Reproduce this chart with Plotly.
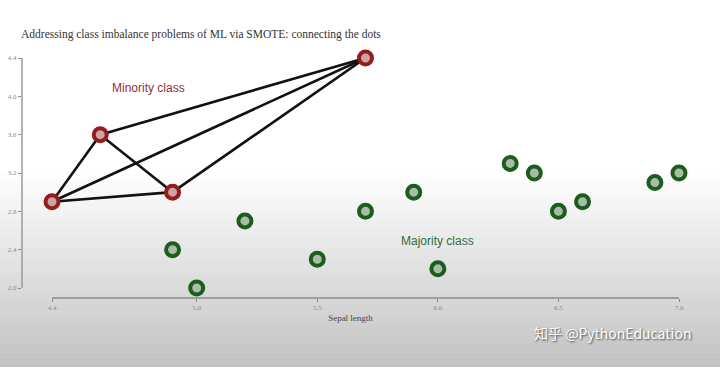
import plotly.graph_objects as go

# ---- data ----
minority_x = [4.4, 4.6, 4.9, 5.7]
minority_y = [2.9, 3.6, 3.0, 4.4]
majority_x = [4.9, 5.0, 5.2, 5.5, 5.7, 5.9, 6.0, 6.3, 6.4, 6.5, 6.6, 6.9, 7.0]
majority_y = [2.4, 2.0, 2.7, 2.3, 2.8, 3.0, 2.2, 3.3, 3.2, 2.8, 2.9, 3.1, 3.2]
x_ticks = [4.4, 5.0, 5.5, 6.0, 6.5, 7.0]
y_ticks = [2.0, 2.4, 2.8, 3.2, 3.6, 4.0, 4.4]
title_text = "Addressing class imbalance problems of ML via SMOTE: connecting the dots"
x_title = "Sepal length"

# connecting lines between every pair of minority points
lx, ly = [], []
n = len(minority_x)
for i in range(n):
    for j in range(i + 1, n):
        lx += [minority_x[i], minority_x[j], None]
        ly += [minority_y[i], minority_y[j], None]

fig = go.Figure()
fig.add_trace(go.Scatter(x=lx, y=ly, mode="lines",
                         line=dict(color="#111111", width=2.6),
                         hoverinfo="skip", cliponaxis=False, showlegend=False))
fig.add_trace(go.Scatter(x=majority_x, y=majority_y, mode="markers",
                         marker=dict(size=13, color="#a9bba9",
                                     line=dict(color="#1c5c1c", width=4)),
                         cliponaxis=False, showlegend=False))
fig.add_trace(go.Scatter(x=minority_x, y=minority_y, mode="markers",
                         marker=dict(size=13, color="#c8a4a4",
                                     line=dict(color="#951c1c", width=4)),
                         cliponaxis=False, showlegend=False))

# background gradient (bands)
shapes = []
W, H = 720, 367
L, R, T, B = 22, 41, 58, 69
pw, ph = W - L - R, H - T - B
def px2paper_y(py):
    return (H - B - py) / ph
def px2paper_x(px):
    return (px - L) / pw
top_px, bot_px = 170, 367
nb = 120
for k in range(nb):
    y0 = top_px + (bot_px - top_px) * k / nb
    y1 = top_px + (bot_px - top_px) * (k + 1) / nb + 0.6
    t = (k + 0.5) / nb
    g = int(round(255 - (255 - 194) * t))
    col = f"rgb({g},{g},{g})"
    shapes.append(dict(type="rect", xref="paper", yref="paper", layer="below",
                       x0=px2paper_x(-2), x1=px2paper_x(W + 2),
                       y0=px2paper_y(y1), y1=px2paper_y(y0),
                       fillcolor=col, line=dict(width=0)))
# axis lines
shapes.append(dict(type="line", xref="x", yref="paper", x0=x_ticks[0], x1=x_ticks[-1],
                   y0=0, y1=0, line=dict(color="#8a8a8a", width=1.5)))
shapes.append(dict(type="line", xref="paper", yref="y", x0=0, x1=0,
                   y0=y_ticks[0], y1=y_ticks[-1], line=dict(color="#9a9a9a", width=1.5)))

xppu = (W - L - R - 30) / (x_ticks[-1] - x_ticks[0])
yppu = (ph - 10) / (y_ticks[-1] - y_ticks[0])

fig.update_layout(
    width=W, height=H,
    margin=dict(l=L, r=R, t=T, b=B, autoexpand=False),
    paper_bgcolor="white", plot_bgcolor="rgba(0,0,0,0)",
    shapes=shapes,
    xaxis=dict(range=[x_ticks[0] - 30 / xppu, x_ticks[-1]], tickvals=x_ticks, automargin=False,
               ticktext=[f"{v:.1f}" for v in x_ticks], showgrid=False, zeroline=False,
               showline=False, ticks="outside", ticklen=3, tickcolor="#8a8a8a",
               tickfont=dict(family="Liberation Serif", size=7, color="#8a8a8a"),
               title=dict(text=x_title, standoff=3,
                          font=dict(family="Liberation Serif", size=9, color="#444"))),
    yaxis=dict(range=[y_ticks[0] - 10 / yppu, y_ticks[-1]], tickvals=y_ticks, automargin=False,
               ticktext=[f"{v:.1f}" for v in y_ticks], showgrid=False, zeroline=False,
               showline=False, ticks="outside", ticklen=3, tickcolor="#8a8a8a",
               tickfont=dict(family="Liberation Serif", size=7, color="#8a8a8a")),
    annotations=[
        dict(text=title_text, xref="paper", yref="paper", x=px2paper_x(19), y=px2paper_y(35),
             xanchor="left", yanchor="middle", showarrow=False,
             font=dict(family="Liberation Serif", size=11.5, color="#333333")),
        dict(text="Minority class", xref="paper", yref="paper", x=px2paper_x(148), y=px2paper_y(88),
             xanchor="center", yanchor="middle", showarrow=False,
             font=dict(family="Liberation Sans", size=12, color="#8e3434")),
        dict(text="Majority class", xref="paper", yref="paper", x=px2paper_x(437), y=px2paper_y(241),
             xanchor="center", yanchor="middle", showarrow=False,
             font=dict(family="Liberation Sans", size=12, color="#356b3e")),
        dict(text="知乎 @PythonEducation", xref="paper", yref="paper", x=px2paper_x(532), y=px2paper_y(333),
             xanchor="left", yanchor="middle", showarrow=False,
             font=dict(family="Noto Sans CJK SC", size=14, color="white",
                       shadow="1px 1px 2px #444")),
    ],
)

fig.write_html("out.html", config={"displayModeBar": False},
               post_script="document.body.style.margin='0';")
